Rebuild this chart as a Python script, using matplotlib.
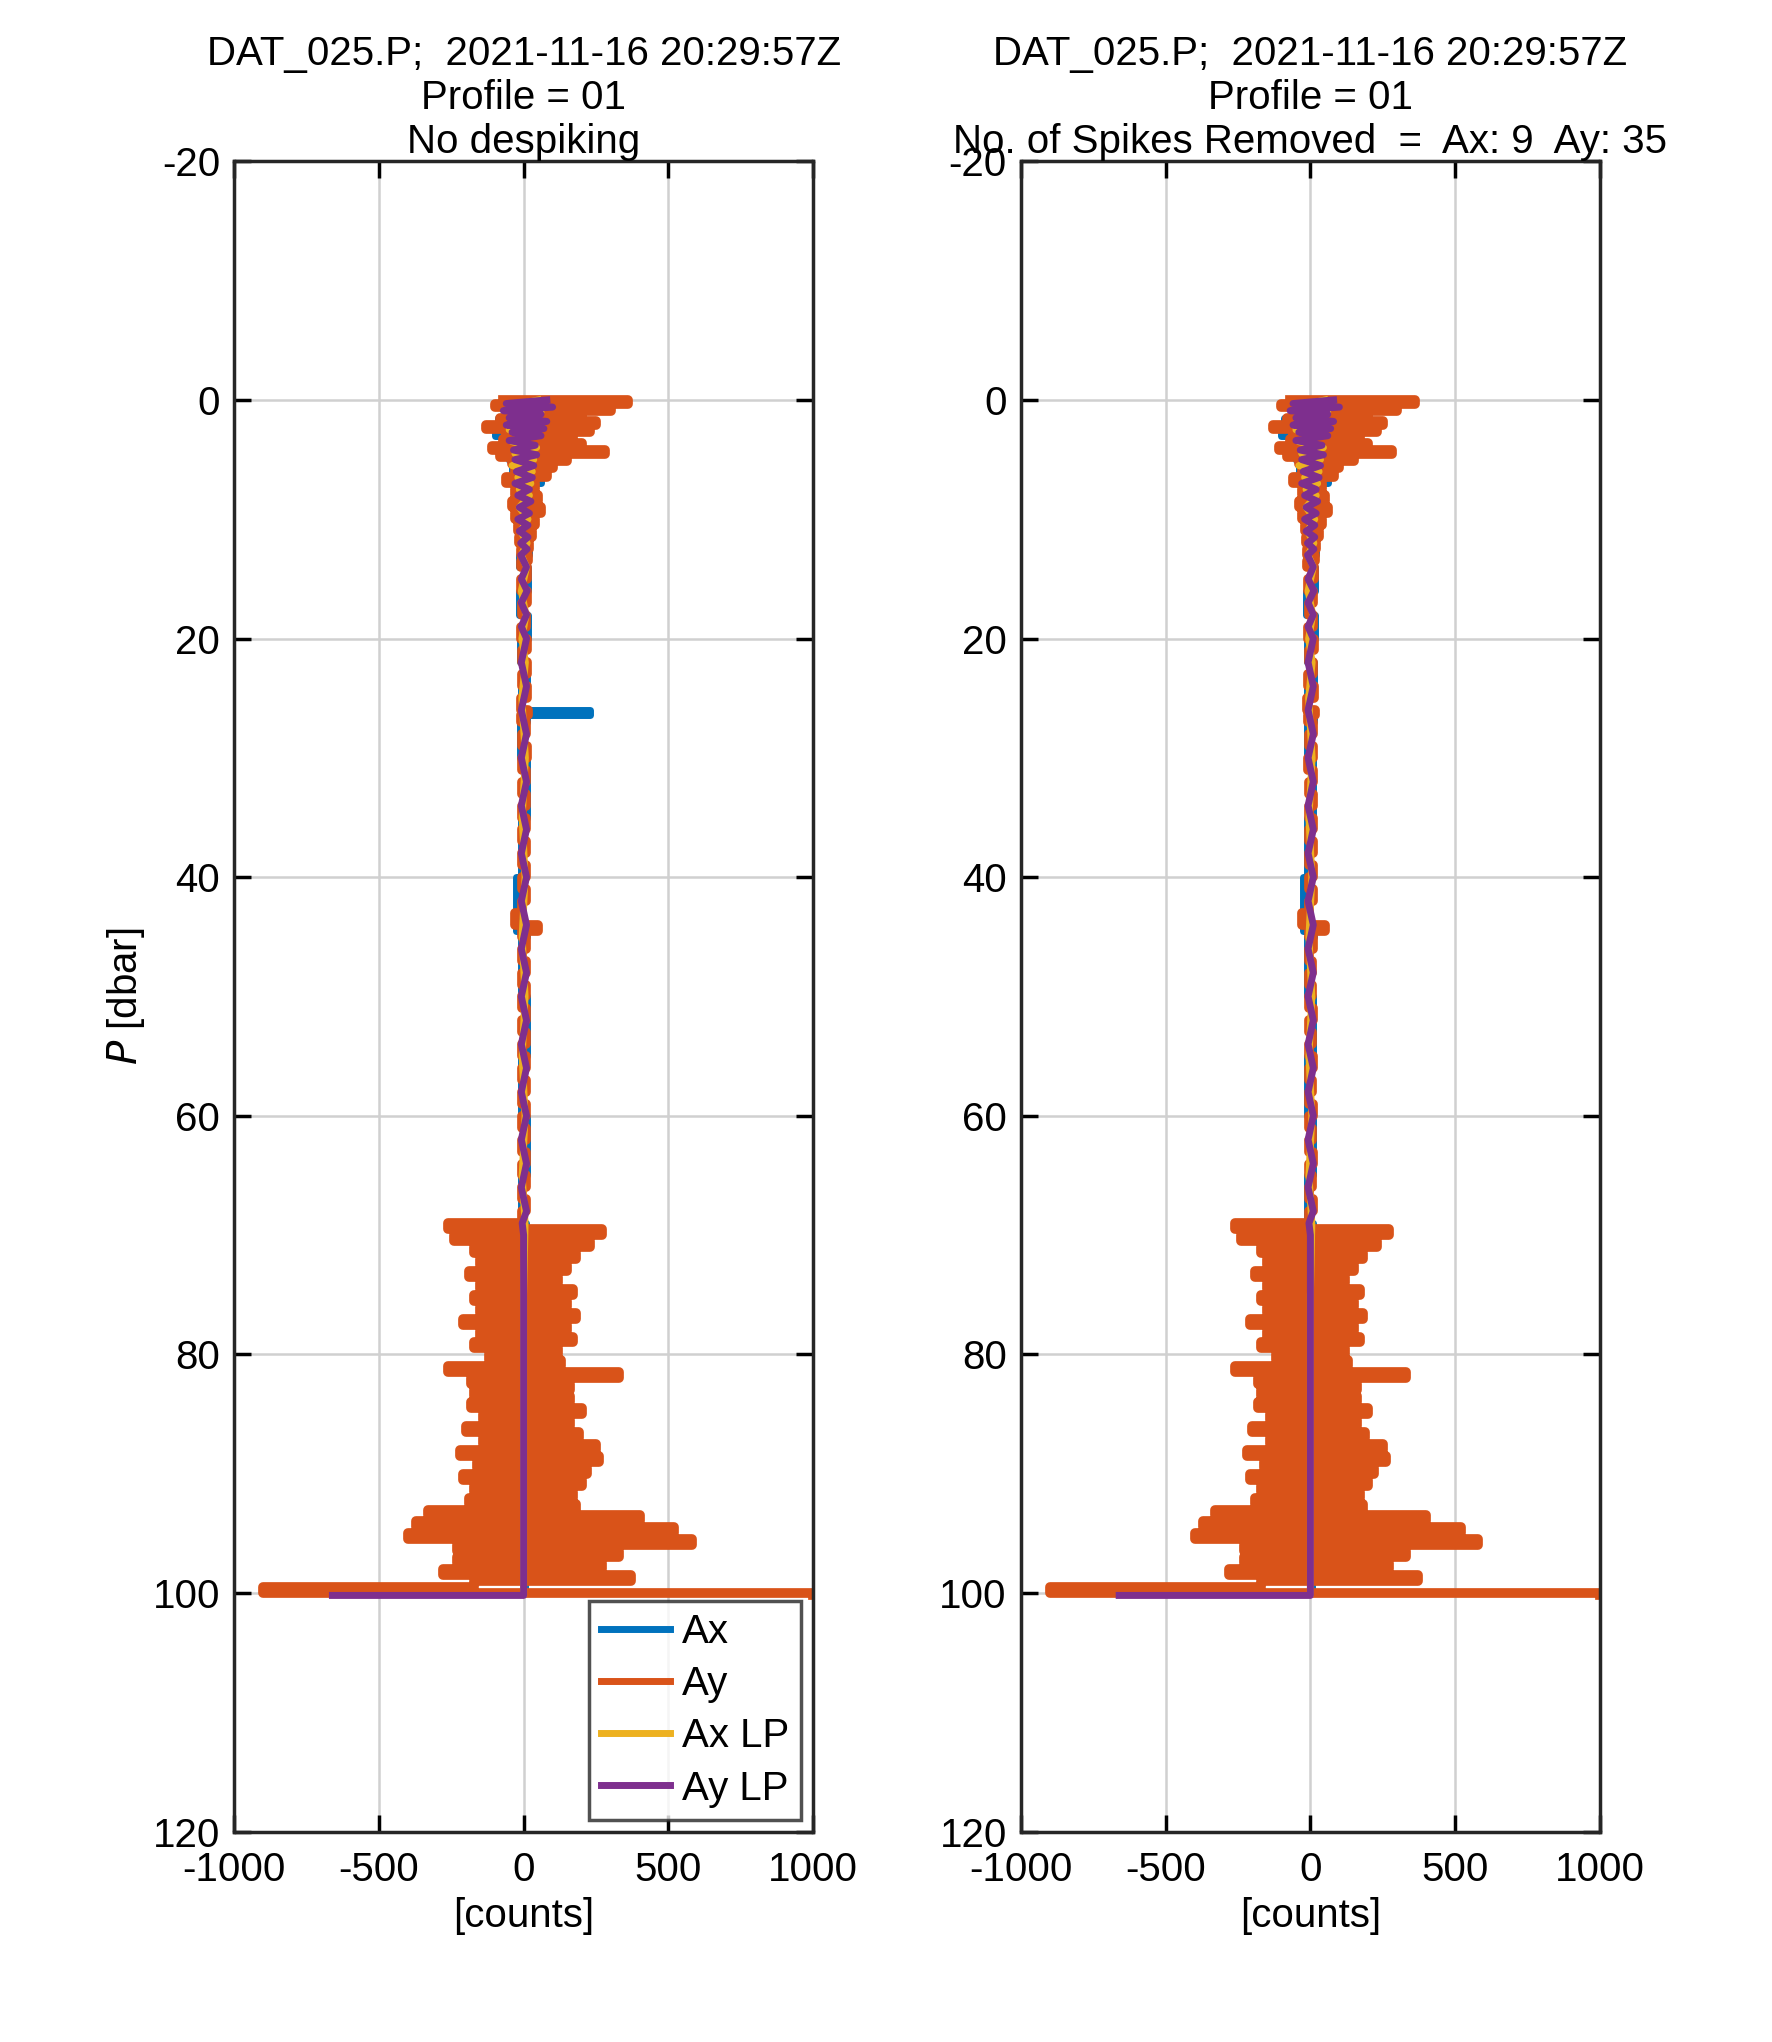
import matplotlib
matplotlib.use("Agg")
import matplotlib.pyplot as plt

# ---- data ----
ay_p_top = [0.0,0.3,0.6,0.9,1.2,1.5,1.8,2.1,2.4,2.7,3.0,3.3,3.6,3.9,4.2,4.5,4.8,5.1,5.4,5.7,6.0,6.5,7.0,7.5,8.0,8.5,9.0,9.5,10,10.5,11,11.5,12,12.5,13,13.5,14]
ay_v_top = [-70,360,-100,300,-40,200,-80,250,-130,230,-60,170,-70,200,-110,280,-80,150,-40,100,-30,80,-60,40,-30,50,-40,60,-30,40,-20,30,-15,20,-10,15,-10]
ay_p_mid = [15,16,17,18,19,20,21,22,23,24,25,26,26.4,27,28,29,30,31,32,33,34,35,36,37,38,39,40,41,42,43,44,44.5,45,46,47,48,49,50,51,52,53,54,55,56,57,58,59,60,61,62,63,64,65,66,67,68,69]
ay_v_mid = [12,-8,10,-6,9,-8,12,-6,10,-7,12,-10,15,-8,9,-6,10,-7,8,-6,9,-6,8,-6,9,-5,8,-6,9,-6,-30,50,-6,8,-5,7,-6,7,-5,8,-6,7,-5,8,-6,7,-5,8,-6,7,-5,8,-6,7,-5,8,-6]
ay_p_deep = [69.5,70.0,70.5,71.0,71.5,72.0,72.5,73.0,73.5,74.0,74.5,75.0,75.5,76.0,76.5,77.0,77.5,78.0,78.5,79.0,79.5,80.0,80.5,81.0,81.5,82.0,82.5,83.0,83.5,84.0,84.5,85.0,85.5,86.0,86.5,87.0,87.5,88.0,88.5,89.0,89.5,90.0,90.5,91.0,91.5,92.0,92.5,93.0,93.5,94.0,94.5,95.0,95.5,96.0,96.5,97.0,97.5,98.0,98.5,99.0,99.5,100.0,100.2]
ay_v_deep = [-260,270,-240,230,-170,180,-150,150,-190,120,-150,170,-170,150,-150,180,-210,150,-150,170,-170,120,-120,130,-260,330,-180,160,-170,160,-180,200,-140,160,-200,190,-140,250,-220,260,-160,220,-210,200,-170,170,-190,180,-330,400,-370,520,-400,580,-230,330,-230,270,-280,370,-170,-900,1000]

ax_p = [0.0,0.5,1.0,1.5,2.0,2.5,3.0,3.5,4.0,4.5,5.0,5.5,6.0,7.0,8.0,9.0,10,11,12,13,14,16,18,20,22,24,26,26.4,26.6,27,30,35,40,44.5,45,50,55,60,65,69,75,80,85,90,95,100]
ax_v = [-40,150,-60,130,-90,110,-100,80,-70,90,-50,80,-40,60,-30,40,-25,20,-20,20,-15,15,-15,15,-12,12,-10,230,-10,12,-12,10,-10,-25,12,-10,10,-10,10,-10,8,-8,8,-8,8,5]
axlp_p = [0.0,0.5,1.0,1.5,2.0,2.5,3.0,3.5,4.0,4.5,5.0,5.5,6.0,6.5,7.0,7.5,8.0,9.0,10,11,12,13,14,16,18,20,22,25,30,35,40,45,50,55,60,65,69,75,80,85,90,95,100]
axlp_v = [50,-40,60,-30,40,-50,30,-40,45,-30,35,-40,30,-20,25,-15,20,-15,15,-10,12,-8,10,-8,8,-6,6,-6,6,-5,5,-5,5,-5,5,-5,5,0,0,0,0,0,0]
aylp_p = [0.0,0.3,0.6,0.9,1.2,1.5,1.8,2.1,2.4,2.7,3.0,3.4,3.8,4.2,4.6,5.0,5.5,6.0,6.5,7.0,7.5,8.0,8.5,9.0,9.5,10,10.5,11,11.5,12,12.5,13,14,15,16,17,18,19,20,22,24,26,28,30,32,34,36,38,40,42,44,46,48,50,52,54,56,58,60,62,64,66,68,69,70,100.0,100.2,100.2]
aylp_v = [80,-60,100,-70,60,-50,80,-60,70,-40,60,-50,40,-35,45,-30,35,-25,30,-30,20,-20,25,-15,20,-20,15,-15,15,-10,12,-10,10,-8,12,-8,10,-8,10,-8,10,-8,10,-8,10,-8,10,-8,10,-8,10,-8,10,-8,10,-8,10,-8,10,-8,10,-8,10,-5,0,0,0,-660]

ay_p = ay_p_top + ay_p_mid + ay_p_deep
ay_v = ay_v_top + ay_v_mid + ay_v_deep
# despiked versions (right panel)
ax_v_ds = [v if v < 200 or p < 20 else 8 for p, v in zip(ax_p, ax_v)]
ay_v_ds = list(ay_v)

titles = ["DAT_025.P;  2021-11-16 20:29:57Z\nProfile = 01\nNo despiking",
          "DAT_025.P;  2021-11-16 20:29:57Z\nProfile = 01\nNo. of Spikes Removed  =  Ax: 9  Ay: 35"]

C_AX = "#0072BD"; C_AY = "#D95319"; C_AXLP = "#EDB120"; C_AYLP = "#7E2F8E"

plt.rcParams['font.family'] = ['Liberation Sans', 'DejaVu Sans']
plt.rcParams['axes.unicode_minus'] = False
fig = plt.figure(figsize=(17.72, 20.42), dpi=100)
axes = [fig.add_axes([0.132, 0.103, 0.327, 0.818]),
        fig.add_axes([0.576, 0.103, 0.327, 0.818])]

for i, ax in enumerate(axes):
    axv = ax_v if i == 0 else ax_v_ds
    ayv = ay_v if i == 0 else ay_v_ds
    ax.plot(axv, ax_p, color=C_AX, lw=5, drawstyle="steps-post", label="Ax")
    ax.plot(ayv, ay_p, color=C_AY, lw=7, drawstyle="steps-post", label="Ay")
    ax.plot(axlp_v, axlp_p, color=C_AXLP, lw=5, label="Ax LP")
    ax.plot(aylp_v, aylp_p, color=C_AYLP, lw=5, label="Ay LP")
    ax.set_xlim(-1000, 1000)
    ax.set_ylim(120, -20)
    ax.set_xticks([-1000, -500, 0, 500, 1000])
    ax.set_yticks([-20, 0, 20, 40, 60, 80, 100, 120])
    ax.grid(True, color="#d0d0d0", lw=1.8)
    ax.set_axisbelow(True)
    ax.tick_params(direction="in", length=12, width=2.5, labelsize=29, top=True, right=True, pad=10)
    ax.tick_params(axis="x", pad=14)
    for s in ax.spines.values():
        s.set_linewidth(2.5); s.set_color("#262626")
    ax.set_xlabel("[counts]", fontsize=29, labelpad=6)
    ax.set_title(titles[i], fontsize=29, linespacing=1.2, pad=6)
    if i == 0:
        ax.set_ylabel(r"$P$ [dbar]", fontsize=29)
        leg = ax.legend(loc="lower right", fontsize=29, frameon=True, fancybox=False,
                        handlelength=1.7, handletextpad=0.3, borderpad=0.3, labelspacing=0.35,
                        borderaxespad=0.3)
        leg.get_frame().set_edgecolor("#262626"); leg.get_frame().set_linewidth(2.5)
        for h in leg.get_lines():
            h.set_linewidth(5)

fig.savefig("out.png", dpi=100)
